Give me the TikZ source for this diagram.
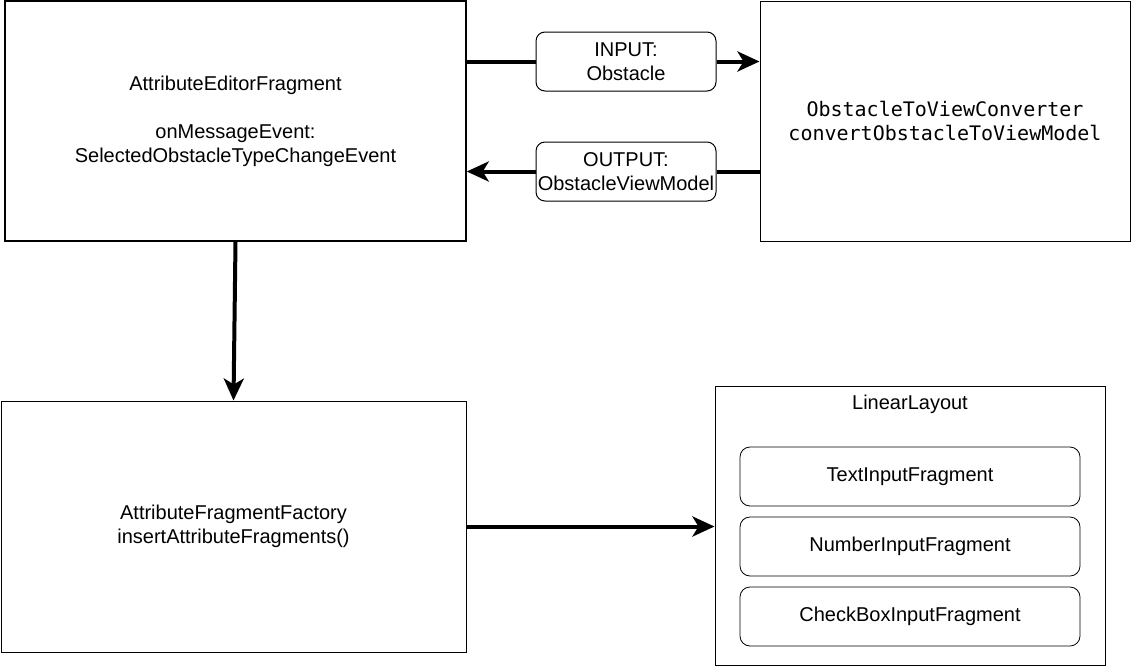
\documentclass[tikz,border=0pt]{standalone}
\usepackage{fontspec}
\setmainfont{Liberation Sans}
\setmonofont{DejaVu Sans Mono}
\usetikzlibrary{arrows.meta,calc}
\begin{document}
\begin{tikzpicture}[x=1pt,y=-1pt,
  every node/.style={font=\fontsize{20pt}{24pt}\selectfont, align=center, inner sep=0pt},
  bigbox/.style={draw, line width=1.5pt, fill=white},
  thinbox/.style={draw, line width=1pt, fill=white},
  lblbox/.style={draw, line width=1pt, fill=white, rounded corners=9pt, minimum width=180pt, minimum height=59pt},
  itembox/.style={draw, line width=0.8pt, fill=white, rounded corners=10pt, minimum width=340pt, minimum height=59pt},
  flow/.style={line width=4pt, -{Stealth[length=22pt,width=20pt,inset=6pt]}},
  plain/.style={line width=4pt}
]
\useasboundingbox (0,0) rectangle (1132,667);
\node[bigbox, minimum width=461pt, minimum height=240pt] (A) at (235.5,121)
  {AttributeEditorFragment\\[24pt]onMessageEvent:\\SelectedObstacleTypeChangeEvent};
\node[thinbox, minimum width=370pt, minimum height=240pt] (B) at (945,121)
  {\ttfamily ObstacleToViewConverter\\\ttfamily convertObstacleToViewModel};
\node[bigbox, line width=1pt, minimum width=465pt, minimum height=251pt] (C) at (233.5,526.5)
  {AttributeFragmentFactory\\insertAttributeFragments()};
\node[thinbox, minimum width=390pt, minimum height=279pt] (D) at (910,525.5) {};
\node (DL) at (910,404) {LinearLayout};
\node[itembox] (T1) at (910,476.5) {TextInputFragment};
\node[itembox] (T2) at (910,546.5) {NumberInputFragment};
\node[itembox] (T3) at (910,616.5) {CheckBoxInputFragment};
\node[lblbox] (IN) at (626,61.5) {INPUT:\\Obstacle};
\node[lblbox] (OUT) at (626,171.5) {OUTPUT:\\ObstacleViewModel};
\draw[plain] (A.east |- IN.west) -- (IN.west);
\draw[flow] (IN.east) -- (B.west |- IN.east);
\draw[plain] (B.west |- OUT.east) -- (OUT.east);
\draw[flow] (OUT.west) -- (A.east |- OUT.west);
\draw[flow] (A.south) -- (C.north);
\draw[flow] (C.east) -- (C.east -| D.west);
\end{tikzpicture}
\end{document}
